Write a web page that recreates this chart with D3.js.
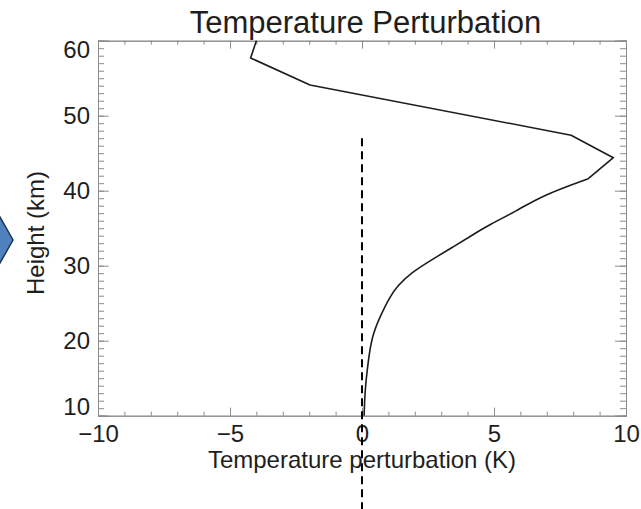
<!DOCTYPE html>
<html>
<head>
<meta charset="utf-8">
<script src="https://cdn.jsdelivr.net/npm/d3@7"></script>
<style>
  body { margin: 0; background: #fff; }
  svg { display: block; }
  text { font-family: "Liberation Sans", Arial, Helvetica, sans-serif; fill: #1e1e1e; }
</style>
</head>
<body>
<div id="chart"></div>
<script>
const width = 641;
const height = 509;
const margin = ({top: 40.7, right: 15, bottom: 93.3, left: 98});

const title_text = "Temperature Perturbation";
const x_label = "Temperature perturbation (K)";
const y_label = "Height (km)";

// profile: height (km) and perturbation (K)
const heights = [60, 57.7, 54.1, 47.4, 44.4, 41.6, 39.4, 37.2, 35.5, 33.9, 32.5, 31.2, 29.0, 27.3, 25.9, 23.2, 20.5, 17.4, 13.4, 10];
const perturbation = [-4.0, -4.22, -1.97, 7.92, 9.52, 8.57, 6.85, 5.8, 4.85, 4.09, 3.45, 2.83, 1.82, 1.35, 1.06, 0.68, 0.37, 0.24, 0.11, 0.08];
// below this index the profile is smooth, above it the segments are straight
const smoothFrom = 5;

const xTicks = [-10, -5, 0, 5, 10];
const yTicks = [10, 20, 30, 40, 50, 60];
const xMinor = d3.range(-10, 10.1, 1);
const yMinor = d3.range(10, 60.1, 1);

// zero reference line, from about 47 km down past the bottom
const zeroLine = [{h: 47, t: 0}, {h: -3, t: 0}];

const svg = d3.select("#chart").append("svg")
  .attr("width", width)
  .attr("height", height);

const x = d3.scaleLinear()
  .domain([-10, 10])
  .range([margin.left, width - margin.right]);

const y = d3.scaleLinear()
  .domain([10, 60])
  .range([height - margin.bottom, margin.top]);

const axisColor = "#8c8c8c";

function styleAxis(g) {
  g.select(".domain").attr("stroke", axisColor);
  g.selectAll(".tick line").attr("stroke", axisColor);
  g.selectAll(".tick text").attr("font-size", 24).attr("fill", "#1e1e1e")
    .attr("font-family", "Liberation Sans, Arial, sans-serif");
}

// minor ticks (all four sides)
svg.append("g")
  .attr("transform", `translate(0,${y(10)})`)
  .call(d3.axisBottom(x).tickValues(xMinor).tickSize(-4).tickFormat(""))
  .call(styleAxis);
svg.append("g")
  .attr("transform", `translate(0,${y(60)})`)
  .call(d3.axisTop(x).tickValues(xMinor).tickSize(-4).tickFormat(""))
  .call(styleAxis);
svg.append("g")
  .attr("transform", `translate(${x(-10)},0)`)
  .call(d3.axisLeft(y).tickValues(yMinor).tickSize(-6).tickFormat(""))
  .call(styleAxis);
svg.append("g")
  .attr("transform", `translate(${x(10)},0)`)
  .call(d3.axisRight(y).tickValues(yMinor).tickSize(-6).tickFormat(""))
  .call(styleAxis);

// major ticks
svg.append("g")
  .attr("transform", `translate(0,${y(10)})`)
  .call(d3.axisBottom(x).tickValues(xTicks).tickSize(-8).tickPadding(9)
    .tickFormat(d => d < 0 ? "\u2212" + Math.abs(d) : d))
  .call(styleAxis)
  .call(g => g.selectAll(".tick text").attr("dy", "0.71em"));
svg.append("g")
  .attr("transform", `translate(0,${y(60)})`)
  .call(d3.axisTop(x).tickValues(xTicks).tickSize(-8).tickFormat(""))
  .call(styleAxis);
svg.append("g")
  .attr("transform", `translate(${x(-10)},0)`)
  .call(d3.axisLeft(y).tickValues(yTicks).tickSize(-10.7).tickPadding(8))
  .call(styleAxis)
  .call(g => g.selectAll(".tick text")
    .attr("y", d => d === 60 ? 9 : d === 10 ? -9 : 0));
svg.append("g")
  .attr("transform", `translate(${x(10)},0)`)
  .call(d3.axisRight(y).tickValues(yTicks).tickSize(-11).tickFormat(""))
  .call(styleAxis);

// the profile
const profile = heights.map((h, i) => ({h: h, t: perturbation[i]}));

const upper = d3.line()
  .x(d => x(d.t))
  .y(d => y(d.h));
const lower = d3.line()
  .x(d => x(d.t))
  .y(d => y(d.h))
  .curve(d3.curveBasis);

svg.append("path")
  .attr("fill", "none")
  .attr("stroke", "#1c1c1c")
  .attr("stroke-width", 1.6)
  .attr("stroke-linejoin", "round")
  .attr("d", upper(profile.slice(0, smoothFrom + 1)) + lower(profile.slice(smoothFrom)));

// title + labels
svg.append("text")
  .attr("x", 365.5)
  .attr("y", 33)
  .attr("text-anchor", "middle")
  .attr("font-size", 31)
  .text(title_text);

svg.append("text")
  .attr("x", 362)
  .attr("y", 468)
  .attr("text-anchor", "middle")
  .attr("font-size", 24)
  .text(x_label);

svg.append("text")
  .attr("transform", "translate(44,233) rotate(-90)")
  .attr("text-anchor", "middle")
  .attr("font-size", 24)
  .text(y_label);

// dashed zero line, running below the axis
svg.append("line")
  .attr("x1", x(zeroLine[0].t))
  .attr("y1", y(zeroLine[0].h))
  .attr("x2", x(zeroLine[1].t))
  .attr("y2", y(zeroLine[1].h))
  .attr("stroke", "black")
  .attr("stroke-width", 2)
  .style("stroke-dasharray", ("8, 5"));

// blue arrow head cut off at the left edge
svg.append("path")
  .attr("d", "M-13,194 L13,240 L-13,286 Z")
  .attr("fill", "#4f81bd")
  .attr("stroke", "#1f3553")
  .attr("stroke-width", 1.5);
</script>
</body>
</html>
